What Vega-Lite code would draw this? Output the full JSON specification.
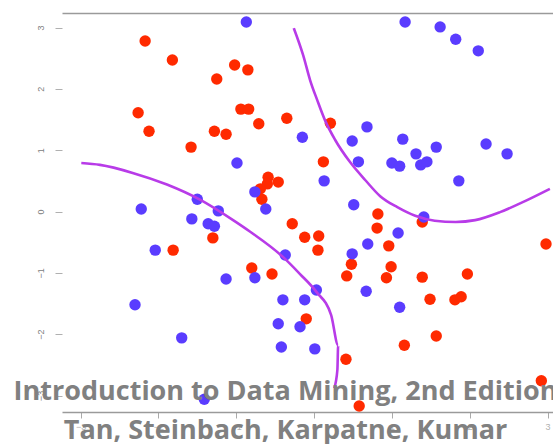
{
  "$schema": "https://vega.github.io/schema/vega-lite/v6.json",
  "autosize": "none",
  "padding": {"left": 62, "top": 13, "right": 0, "bottom": 32},
  "width": 491,
  "height": 399,
  "background": "white",
  "title": {
    "text": "Introduction to Data Mining, 2nd Edition",
    "subtitle": "Tan, Steinbach, Karpatne, Kumar",
    "orient": "bottom",
    "anchor": "middle",
    "dx": -22,
    "offset": -52,
    "font": "Open Sans",
    "fontSize": 27,
    "fontWeight": "bold",
    "color": "#808080",
    "subtitleFont": "Open Sans",
    "subtitleFontSize": 27,
    "subtitleFontWeight": "bold",
    "subtitleColor": "#808080",
    "subtitlePadding": 12
  },
  "datasets": {
    "points": [
      {"x": -2.17, "y": 2.78, "cls": "red"},
      {"x": -1.82, "y": 2.47, "cls": "red"},
      {"x": -1.02, "y": 2.39, "cls": "red"},
      {"x": -0.85, "y": 2.31, "cls": "red"},
      {"x": -1.25, "y": 2.16, "cls": "red"},
      {"x": -2.26, "y": 1.61, "cls": "red"},
      {"x": -0.94, "y": 1.67, "cls": "red"},
      {"x": -0.84, "y": 1.67, "cls": "red"},
      {"x": -0.35, "y": 1.52, "cls": "red"},
      {"x": -2.12, "y": 1.31, "cls": "red"},
      {"x": -0.71, "y": 1.43, "cls": "red"},
      {"x": -1.28, "y": 1.31, "cls": "red"},
      {"x": -1.13, "y": 1.26, "cls": "red"},
      {"x": -1.58, "y": 1.05, "cls": "red"},
      {"x": 0.21, "y": 1.44, "cls": "red"},
      {"x": 0.12, "y": 0.81, "cls": "red"},
      {"x": -0.59, "y": 0.56, "cls": "red"},
      {"x": -0.46, "y": 0.48, "cls": "red"},
      {"x": -0.60, "y": 0.45, "cls": "red"},
      {"x": -0.69, "y": 0.37, "cls": "red"},
      {"x": -0.67, "y": 0.20, "cls": "red"},
      {"x": -1.30, "y": -0.43, "cls": "red"},
      {"x": -1.81, "y": -0.63, "cls": "red"},
      {"x": -0.28, "y": -0.20, "cls": "red"},
      {"x": -0.12, "y": -0.42, "cls": "red"},
      {"x": 0.06, "y": -0.40, "cls": "red"},
      {"x": 0.05, "y": -0.63, "cls": "red"},
      {"x": 0.82, "y": -0.04, "cls": "red"},
      {"x": 0.81, "y": -0.27, "cls": "red"},
      {"x": 0.96, "y": -0.56, "cls": "red"},
      {"x": 1.39, "y": -0.17, "cls": "red"},
      {"x": 0.48, "y": -0.86, "cls": "red"},
      {"x": 0.42, "y": -1.05, "cls": "red"},
      {"x": 0.99, "y": -0.90, "cls": "red"},
      {"x": 0.93, "y": -1.08, "cls": "red"},
      {"x": -0.80, "y": -0.92, "cls": "red"},
      {"x": -0.54, "y": -1.02, "cls": "red"},
      {"x": 1.39, "y": -1.07, "cls": "red"},
      {"x": 1.97, "y": -1.02, "cls": "red"},
      {"x": 2.98, "y": -0.53, "cls": "red"},
      {"x": 1.49, "y": -1.43, "cls": "red"},
      {"x": 1.81, "y": -1.44, "cls": "red"},
      {"x": 1.89, "y": -1.39, "cls": "red"},
      {"x": -0.10, "y": -1.75, "cls": "red"},
      {"x": 1.57, "y": -2.03, "cls": "red"},
      {"x": 1.16, "y": -2.18, "cls": "red"},
      {"x": 0.41, "y": -2.41, "cls": "red"},
      {"x": 2.92, "y": -2.76, "cls": "red"},
      {"x": 0.58, "y": -3.17, "cls": "red"},
      {"x": -0.87, "y": 3.09, "cls": "blue"},
      {"x": 1.17, "y": 3.09, "cls": "blue"},
      {"x": 1.62, "y": 3.01, "cls": "blue"},
      {"x": 1.82, "y": 2.81, "cls": "blue"},
      {"x": 2.11, "y": 2.62, "cls": "blue"},
      {"x": -0.15, "y": 1.21, "cls": "blue"},
      {"x": 0.68, "y": 1.38, "cls": "blue"},
      {"x": 0.49, "y": 1.15, "cls": "blue"},
      {"x": 1.14, "y": 1.18, "cls": "blue"},
      {"x": 1.57, "y": 1.05, "cls": "blue"},
      {"x": 2.21, "y": 1.10, "cls": "blue"},
      {"x": 2.48, "y": 0.94, "cls": "blue"},
      {"x": 1.31, "y": 0.94, "cls": "blue"},
      {"x": 0.57, "y": 0.81, "cls": "blue"},
      {"x": 1.00, "y": 0.79, "cls": "blue"},
      {"x": 1.10, "y": 0.74, "cls": "blue"},
      {"x": 1.37, "y": 0.76, "cls": "blue"},
      {"x": 1.45, "y": 0.81, "cls": "blue"},
      {"x": 1.86, "y": 0.50, "cls": "blue"},
      {"x": 0.13, "y": 0.50, "cls": "blue"},
      {"x": 0.51, "y": 0.11, "cls": "blue"},
      {"x": 1.41, "y": -0.09, "cls": "blue"},
      {"x": -0.99, "y": 0.79, "cls": "blue"},
      {"x": -2.22, "y": 0.04, "cls": "blue"},
      {"x": -1.50, "y": 0.20, "cls": "blue"},
      {"x": -1.23, "y": 0.01, "cls": "blue"},
      {"x": -1.57, "y": -0.12, "cls": "blue"},
      {"x": -1.36, "y": -0.20, "cls": "blue"},
      {"x": -1.28, "y": -0.24, "cls": "blue"},
      {"x": -0.76, "y": 0.32, "cls": "blue"},
      {"x": -0.62, "y": 0.04, "cls": "blue"},
      {"x": -2.04, "y": -0.63, "cls": "blue"},
      {"x": 1.08, "y": -0.35, "cls": "blue"},
      {"x": 0.69, "y": -0.53, "cls": "blue"},
      {"x": -0.37, "y": -0.71, "cls": "blue"},
      {"x": 0.49, "y": -0.69, "cls": "blue"},
      {"x": -1.13, "y": -1.10, "cls": "blue"},
      {"x": -0.76, "y": -1.08, "cls": "blue"},
      {"x": 0.03, "y": -1.28, "cls": "blue"},
      {"x": 0.67, "y": -1.30, "cls": "blue"},
      {"x": -0.40, "y": -1.44, "cls": "blue"},
      {"x": -0.12, "y": -1.44, "cls": "blue"},
      {"x": 1.10, "y": -1.56, "cls": "blue"},
      {"x": -0.46, "y": -1.83, "cls": "blue"},
      {"x": -0.18, "y": -1.88, "cls": "blue"},
      {"x": -0.42, "y": -2.21, "cls": "blue"},
      {"x": 0.01, "y": -2.24, "cls": "blue"},
      {"x": -2.30, "y": -1.52, "cls": "blue"},
      {"x": -1.70, "y": -2.06, "cls": "blue"},
      {"x": -1.41, "y": -3.06, "cls": "blue"}
    ],
    "boundary": [
      {"curve": "left", "i": 1, "x": -2.99, "y": 0.79},
      {"curve": "left", "i": 2, "x": -2.75, "y": 0.76},
      {"curve": "left", "i": 3, "x": -2.33, "y": 0.63},
      {"curve": "left", "i": 4, "x": -1.89, "y": 0.44},
      {"curve": "left", "i": 5, "x": -1.46, "y": 0.19},
      {"curve": "left", "i": 6, "x": -1.04, "y": -0.14},
      {"curve": "left", "i": 7, "x": -0.82, "y": -0.33},
      {"curve": "left", "i": 8, "x": -0.40, "y": -0.74},
      {"curve": "left", "i": 9, "x": -0.18, "y": -1.02},
      {"curve": "left", "i": 10, "x": 0.03, "y": -1.31},
      {"curve": "left", "i": 11, "x": 0.22, "y": -1.69},
      {"curve": "left", "i": 12, "x": 0.31, "y": -2.18},
      {"curve": "left", "i": 13, "x": 0.30, "y": -2.58},
      {"curve": "left", "i": 14, "x": 0.26, "y": -2.88},
      {"curve": "right", "i": 1, "x": -0.26, "y": 2.99},
      {"curve": "right", "i": 2, "x": -0.14, "y": 2.55},
      {"curve": "right", "i": 3, "x": -0.05, "y": 2.14},
      {"curve": "right", "i": 4, "x": 0.04, "y": 1.82},
      {"curve": "right", "i": 5, "x": 0.14, "y": 1.49},
      {"curve": "right", "i": 6, "x": 0.27, "y": 1.17},
      {"curve": "right", "i": 7, "x": 0.46, "y": 0.81},
      {"curve": "right", "i": 8, "x": 0.66, "y": 0.51},
      {"curve": "right", "i": 9, "x": 0.85, "y": 0.25},
      {"curve": "right", "i": 10, "x": 1.07, "y": 0.07},
      {"curve": "right", "i": 11, "x": 1.30, "y": -0.07},
      {"curve": "right", "i": 12, "x": 1.55, "y": -0.15},
      {"curve": "right", "i": 13, "x": 1.82, "y": -0.17},
      {"curve": "right", "i": 14, "x": 2.07, "y": -0.14},
      {"curve": "right", "i": 15, "x": 2.39, "y": -0.01},
      {"curve": "right", "i": 16, "x": 2.71, "y": 0.17},
      {"curve": "right", "i": 17, "x": 3.03, "y": 0.37}
    ]
  },
  "config": {
    "view": {"stroke": null},
    "axis": {"grid": false, "title": null}
  },
  "resolve": {"axis": {"x": "independent"}},
  "layer": [
    {
      "data": {"name": "points"},
      "mark": {"type": "circle", "size": 130, "opacity": 1},
      "encoding": {
        "x": {
          "field": "x", "type": "quantitative",
          "scale": {"domain": [-3.238, 3.07], "nice": false, "zero": false},
          "axis": {
            "orient": "bottom", "values": [-3, -2, -1, 0, 1, 2, 3], "format": "d",
            "domainColor": "#9a9a9a", "domainWidth": 1.5,
            "tickColor": "#aaaaaa", "tickSize": 6,
            "labelColor": "#b0b0b0", "labelFontSize": 9, "labelPadding": 4
          }
        },
        "y": {
          "field": "y", "type": "quantitative",
          "scale": {"domain": [-3.269, 3.237], "nice": false, "zero": false},
          "axis": {
            "values": [-3, -2, -1, 0, 1, 2, 3], "format": "d",
            "domain": false,
            "tickColor": "#b0b0b0", "tickSize": 7,
            "labelAngle": -90, "labelColor": "#808080",
            "labelFontSize": 9, "labelPadding": 10
          }
        },
        "color": {
          "field": "cls", "type": "nominal",
          "scale": {"domain": ["red", "blue"], "range": ["#ff2a00", "#5a3cff"]},
          "legend": null
        }
      }
    },
    {
      "data": {"name": "boundary"},
      "mark": {"type": "line", "color": "#b83be8", "strokeWidth": 2.6, "interpolate": "monotone"},
      "encoding": {
        "x": {
          "field": "x", "type": "quantitative",
          "axis": {
            "orient": "top", "ticks": false, "labels": false,
            "domainColor": "#9a9a9a", "domainWidth": 1.5
          }
        },
        "y": {"field": "y", "type": "quantitative"},
        "detail": {"field": "curve"},
        "order": {"field": "i"}
      }
    }
  ]
}
